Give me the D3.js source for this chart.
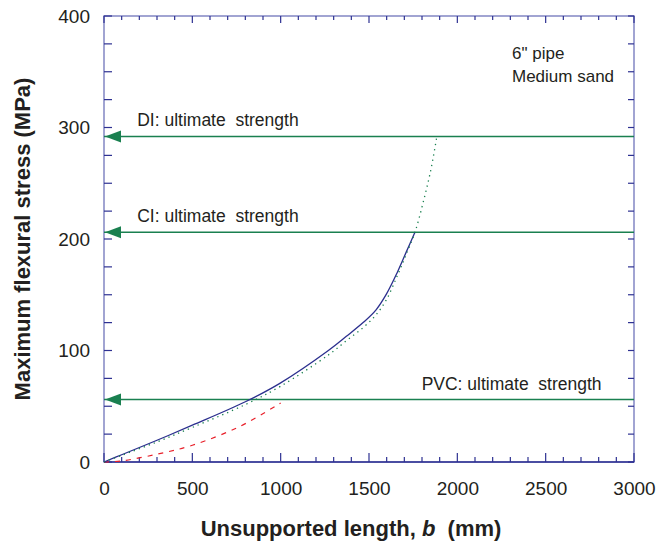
<!DOCTYPE html>
<html>
<head>
<meta charset="utf-8">
<script src="https://cdn.jsdelivr.net/npm/d3@7"></script>
<style>
  body { margin: 0; background: #fff; }
  text { font-family: Arial, "Liberation Sans", sans-serif; fill: #231f20; }
</style>
</head>
<body>
<div id="chart"></div>
<script>
// values (length in mm, stress in MPa)
const blueLen    = [0, 100, 300, 500, 800, 1000, 1270, 1370, 1470, 1540, 1600, 1660, 1710, 1760];
const blueStress = [0, 6.5, 19.5, 33, 54, 71, 100, 112.5, 125.5, 136.5, 151, 170, 188, 206];

const greenLen    = [0, 100, 300, 500, 800, 1000, 1270, 1370, 1470, 1540, 1600, 1660, 1710, 1760, 1810, 1850, 1882];
const greenStress = [0, 6, 18, 31, 51.5, 68, 96, 108.5, 121, 132, 146, 167, 186, 206, 235, 262, 290];

const redLen    = [0, 100, 300, 500, 770, 1000];
const redStress = [0, 1, 7, 15, 32, 53];

const limitNames  = ['DI: ultimate  strength', 'CI: ultimate  strength', 'PVC: ultimate  strength'];
const limitValues = [292, 206, 56];
const limitLabelX = [188, 188, 1798];

const xTicks = [0, 500, 1000, 1500, 2000, 2500, 3000];
const yTicks = [0, 100, 200, 300, 400];

const svgWidth = 657, svgHeight = 544;
const margin = { top: 16, right: 23, bottom: 82, left: 104 };
const w = svgWidth - margin.left - margin.right;
const h = svgHeight - margin.top - margin.bottom;

const svg = d3.select('#chart').append('svg')
    .attr('width', svgWidth)
    .attr('height', svgHeight);

const chart = svg.append('g')
    .attr('transform', `translate(${margin.left},${margin.top})`);

const x = d3.scaleLinear().domain([0, 3000]).range([0, w]);
const y = d3.scaleLinear().domain([0, 400]).range([h, 0]);

const tickCol = '#2e3192';
const frameCol = '#8286c4';

// frame
chart.append('rect')
    .attr('width', w).attr('height', h)
    .attr('fill', 'none')
    .attr('stroke', frameCol)
    .attr('stroke-width', 1.5);

// inward ticks on all four sides
const xMinor = d3.range(0, 3001, 100);
const yMinor = d3.range(0, 401, 25);

chart.selectAll('.xb').data(xMinor).enter().append('line')
    .attr('x1', d => x(d)).attr('x2', d => x(d))
    .attr('y1', h).attr('y2', d => h - (d % 500 === 0 ? 9 : 5))
    .attr('stroke', tickCol).attr('stroke-width', 1.2);

chart.selectAll('.xt').data(xMinor).enter().append('line')
    .attr('x1', d => x(d)).attr('x2', d => x(d))
    .attr('y1', 0).attr('y2', d => d % 500 === 0 ? 7 : 4)
    .attr('stroke', tickCol).attr('stroke-width', 1.2);

chart.selectAll('.yl').data(yMinor).enter().append('line')
    .attr('x1', 0).attr('x2', 8)
    .attr('y1', d => y(d)).attr('y2', d => y(d))
    .attr('stroke', tickCol).attr('stroke-width', 1.2);

chart.selectAll('.yr').data(yMinor).enter().append('line')
    .attr('x1', w).attr('x2', w - 6)
    .attr('y1', d => y(d)).attr('y2', d => y(d))
    .attr('stroke', tickCol).attr('stroke-width', 1.2);

// bottom axis line darker
chart.append('line')
    .attr('x1', 0).attr('x2', w).attr('y1', h).attr('y2', h)
    .attr('stroke', tickCol).attr('stroke-width', 1.6);

// tick labels through d3 axes, no tick marks
const xAxis = chart.append('g')
    .attr('transform', `translate(0,${h})`)
    .call(d3.axisBottom(x).tickValues(xTicks).tickFormat(d3.format('d')).tickSize(0).tickPadding(19.5));
const yAxis = chart.append('g')
    .call(d3.axisLeft(y).tickValues(yTicks).tickFormat(d3.format('d')).tickSize(0).tickPadding(14));
[xAxis, yAxis].forEach(a => {
  a.select('.domain').remove();
  a.selectAll('text')
    .style('font-family', 'Arial, "Liberation Sans", sans-serif')
    .style('font-size', '19px')
    .attr('fill', '#231f20');
});

// strength limits
const green = '#1a8050';
limitValues.forEach((v, i) => {
  chart.append('line')
    .attr('x1', x(0)).attr('x2', w)
    .attr('y1', y(v)).attr('y2', y(v))
    .attr('stroke', green).attr('stroke-width', 1.5);
  chart.append('path')
    .attr('d', `M${x(0) + 1},${y(v)} l16,-6 l0,12 z`)
    .attr('fill', green);
  chart.append('text')
    .attr('x', x(limitLabelX[i]))
    .attr('y', y(v) - 10)
    .style('font-size', '17.5px')
    .style('white-space', 'pre')
    .text(limitNames[i]);
});

// curves
const line = d3.line().x(d => x(d[0])).y(d => y(d[1])).curve(d3.curveCatmullRom.alpha(0.5));

chart.append('path')
    .datum(redLen.map((d, i) => [d, redStress[i]]))
    .attr('d', line)
    .attr('fill', 'none')
    .attr('stroke', '#e8202a')
    .attr('stroke-width', 1.2)
    .attr('stroke-dasharray', '5,6');

chart.append('path')
    .datum(blueLen.map((d, i) => [d, blueStress[i]]))
    .attr('d', line)
    .attr('fill', 'none')
    .attr('stroke', '#2b2f8e')
    .attr('stroke-width', 1.3);

chart.append('path')
    .datum(greenLen.map((d, i) => [d, greenStress[i]]))
    .attr('d', line)
    .attr('fill', 'none')
    .attr('stroke', '#1a8050')
    .attr('stroke-width', 1.3)
    .attr('stroke-dasharray', '1.3,4');

// annotation
chart.append('text').attr('x', 408).attr('y', 43)
    .style('font-size', '17px').text('6" pipe');
chart.append('text').attr('x', 408).attr('y', 66)
    .style('font-size', '17px').text('Medium sand');

// axis titles
svg.append('text')
    .attr('x', 351)
    .attr('y', 536)
    .attr('text-anchor', 'middle')
    .style('font-size', '22px')
    .style('font-weight', 'bold')
    .style('white-space', 'pre')
    .html('Unsupported length, <tspan font-style="italic">b</tspan>  (mm)');

svg.append('text')
    .attr('transform', `translate(30,${margin.top + h / 2}) rotate(-90)`)
    .attr('text-anchor', 'middle')
    .style('font-size', '22px')
    .style('font-weight', 'bold')
    .text('Maximum flexural stress (MPa)');
</script>
</body>
</html>
